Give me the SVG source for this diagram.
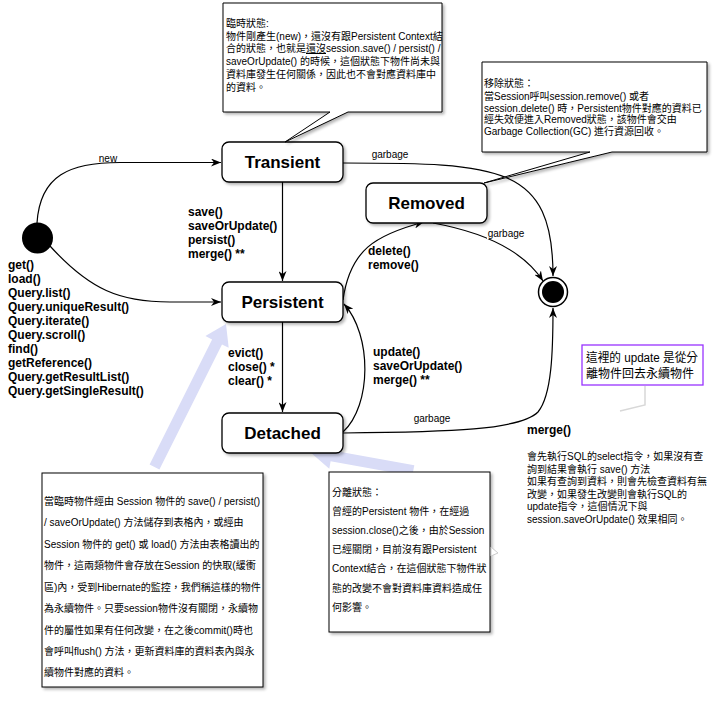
<svg xmlns="http://www.w3.org/2000/svg" width="721" height="701" viewBox="0 0 721 701">
<style>
.t{font-family:'Liberation Sans','Noto Sans CJK TC',sans-serif;fill:#000}
.node{fill:#fff;stroke:#000;stroke-width:1.3}
.ttl{font-size:17px;font-weight:bold;text-anchor:middle}
.lbl{font-size:12px;font-weight:bold}
.sm{font-size:10px}
.note{font-size:10px}
.edge{fill:none;stroke:#000;stroke-width:1.2}
.box{fill:#fff;stroke:#000;stroke-width:1}
.big{fill:#d9dcf7;stroke:none}
</style>
<defs>
<marker id="arr" viewBox="0 0 10 8" refX="10" refY="4" markerWidth="10" markerHeight="8" orient="auto" markerUnits="userSpaceOnUse">
<path d="M0,0 L10,4 L0,8 L3,4 Z" fill="#000"/>
</marker>
<filter id="sh" x="-10%" y="-10%" width="130%" height="130%">
<feGaussianBlur in="SourceAlpha" stdDeviation="1.5"/>
<feOffset dx="2" dy="2" result="o"/>
<feComponentTransfer><feFuncA type="linear" slope="0.3"/></feComponentTransfer>
<feMerge><feMergeNode/><feMergeNode in="SourceGraphic"/></feMerge>
</filter>
</defs>
<rect width="721" height="701" fill="#fff"/>

<g id="highlight-arrows">
<polygon class="big" points="159.4,469.5 222.0,344.4 228.7,347.7 226,324 205.4,336.1 212.1,339.4 149.6,464.5"/>
<polygon class="big" points="414.3,465.2 332.6,450.5 333.9,443.1 310,452 329.3,468.7 330.6,461.3 412.3,476.0"/>
</g>

<g id="connectors">
<path class="edge" d="M37,223 C40,175 70,162.5 120,162.5 L221,162.5" marker-end="url(#arr)"/>
<text class="t sm" x="108" y="161.5" text-anchor="middle">new</text>
<path class="edge" d="M50,246 C90,290 120,302 170,302 L221,302" marker-end="url(#arr)"/>
<path class="edge" d="M282.5,182 L282.5,281" marker-end="url(#arr)"/>
<path class="edge" d="M282.5,322 L282.5,412" marker-end="url(#arr)"/>
<path class="edge" d="M343,163 C500,163 553,165 553,276" marker-end="url(#arr)"/>
<text class="t sm" x="390" y="157.5" text-anchor="middle">garbage</text>
<path class="edge" d="M343,300 C350,250 375,235 424,222" marker-end="url(#arr)"/>
<path class="edge" d="M343,432 C372,405 372,335 344,304" marker-end="url(#arr)"/>
<path class="edge" d="M433,223 Q515,238 543,281" marker-end="url(#arr)"/>
<rect x="487" y="227" width="39" height="12" fill="#fff"/>
<text class="t sm" x="506" y="236.5" text-anchor="middle">garbage</text>
<path class="edge" d="M343,433 C450,432 520,430 538,412 C552,395 553,350 553,308" marker-end="url(#arr)"/>
<text class="t sm" x="432" y="421.5" text-anchor="middle">garbage</text>
</g>

<g id="initial">
<circle cx="37.5" cy="238" r="15.5" fill="#000"/>
</g>
<g id="final">
<circle cx="553" cy="292" r="14.5" fill="#fff" stroke="#000" stroke-width="1.5"/>
<circle cx="553" cy="292" r="11" fill="#000"/>
</g>

<g id="transient">
<rect class="node" x="222" y="142" width="121" height="40" rx="7" filter="url(#sh)"/>
<text class="t ttl" x="282.5" y="168">Transient</text>
</g>
<g id="persistent">
<rect class="node" x="222" y="282" width="121" height="40" rx="7" filter="url(#sh)"/>
<text class="t ttl" x="282.5" y="308">Persistent</text>
</g>
<g id="detached">
<rect class="node" x="222" y="413" width="121" height="40" rx="7" filter="url(#sh)"/>
<text class="t ttl" x="282.5" y="439">Detached</text>
</g>
<g id="removed">
<rect class="node" x="366" y="183" width="121" height="40" rx="7" filter="url(#sh)"/>
<text class="t ttl" x="426.5" y="209">Removed</text>
</g>

<g id="labels">
<text class="t lbl" x="8"><tspan x="8" y="269">get()</tspan><tspan x="8" y="283">load()</tspan><tspan x="8" y="297">Query.list()</tspan><tspan x="8" y="311">Query.uniqueResult()</tspan><tspan x="8" y="325">Query.iterate()</tspan><tspan x="8" y="339">Query.scroll()</tspan><tspan x="8" y="353">find()</tspan><tspan x="8" y="367">getReference()</tspan><tspan x="8" y="381">Query.getResultList()</tspan><tspan x="8" y="395">Query.getSingleResult()</tspan></text>
<text class="t lbl"><tspan x="188" y="216">save()</tspan><tspan x="188" y="230">saveOrUpdate()</tspan><tspan x="188" y="244">persist()</tspan><tspan x="188" y="258">merge() **</tspan></text>
<text class="t lbl"><tspan x="228" y="357">evict()</tspan><tspan x="228" y="371">close() *</tspan><tspan x="228" y="385">clear() *</tspan></text>
<text class="t lbl"><tspan x="368" y="255">delete()</tspan><tspan x="368" y="269">remove()</tspan></text>
<text class="t lbl"><tspan x="373" y="356">update()</tspan><tspan x="373" y="370">saveOrUpdate()</tspan><tspan x="373" y="384">merge() **</tspan></text>
<text class="t lbl" x="527" y="434">merge()</text>
<text class="t note"><tspan x="527" y="460">會先執行SQL的select指令，如果沒有查</tspan><tspan x="527" y="472.5">詢到結果會執行 save() 方法</tspan><tspan x="527" y="485">如果有查詢到資料，則會先檢查資料有無</tspan><tspan x="527" y="497.5">改變，如果發生改變則會執行SQL的</tspan><tspan x="527" y="510">update指令，這個情況下與</tspan><tspan x="527" y="522.5">session.saveOrUpdate() 效果相同。</tspan></text>
</g>

<g id="note-transient">
<path class="box" d="M223,3 H442 V112 H348 L285,142 L330,112 H223 Z" filter="url(#sh)"/>
<text class="t note"><tspan x="226" y="26.5">臨時狀態:</tspan><tspan x="226" y="39.5">物件剛產生(new)，還沒有跟Persistent Context結</tspan><tspan x="226" y="52">合的狀態，也就是<tspan text-decoration="underline">還沒</tspan>session.save() / persist() /</tspan><tspan x="226" y="65">saveOrUpdate() 的時候，這個狀態下物件尚未與</tspan><tspan x="226" y="77.5">資料庫發生任何關係，因此也不會對應資料庫中</tspan><tspan x="226" y="90.5">的資料。</tspan></text>
</g>

<g id="note-removed">
<path class="box" d="M482,62 H707 V152 H612 L484,183 L590,152 H482 Z" filter="url(#sh)"/>
<text class="t note"><tspan x="484" y="86.5">移除狀態：</tspan><tspan x="484" y="99.5">當Session呼叫session.remove() 或者</tspan><tspan x="484" y="111.5">session.delete() 時，Persistent物件對應的資料已</tspan><tspan x="484" y="123">經失效便進入Removed狀態，該物件會交由</tspan><tspan x="484" y="135">Garbage Collection(GC) 進行資源回收。</tspan></text>
</g>

<g id="note-persistent">
<rect class="box" x="42" y="473" width="221" height="214" filter="url(#sh)"/>
<text class="t note"><tspan x="44" y="504.5">當臨時物件經由 Session 物件的 save() / persist()</tspan><tspan x="44" y="525.5">/ saveOrUpdate() 方法儲存到表格內，或經由</tspan><tspan x="44" y="547.5">Session 物件的 get() 或 load() 方法由表格讀出的</tspan><tspan x="44" y="569">物件，這兩類物件會存放在Session 的快取(緩衝</tspan><tspan x="44" y="590.5">區)內，受到Hibernate的監控，我們稱這樣的物件</tspan><tspan x="44" y="612">為永續物件。只要session物件沒有關閉，永續物</tspan><tspan x="44" y="633.5">件的屬性如果有任何改變，在之後commit()時也</tspan><tspan x="44" y="655">會呼叫flush() 方法，更新資料庫的資料表內與永</tspan><tspan x="44" y="676">續物件對應的資料。</tspan></text>
</g>

<g id="note-detached">
<rect class="box" x="329" y="472" width="161" height="160" filter="url(#sh)"/>
<polygon points="491,547 498,553 491,556" fill="#fff" stroke="#ccc" stroke-width="1"/>
<text class="t note"><tspan x="332" y="495.5">分離狀態：</tspan><tspan x="332" y="514.5">曾經的Persistent 物件，在經過</tspan><tspan x="332" y="534">session.close()之後，由於Session</tspan><tspan x="332" y="553">已經關閉，目前沒有跟Persistent</tspan><tspan x="332" y="572">Context結合，在這個狀態下物件狀</tspan><tspan x="332" y="591.5">態的改變不會對資料庫資料造成任</tspan><tspan x="332" y="610.5">何影響。</tspan></text>
</g>

<g id="note-update">
<path d="M645,386 L645,405 L620,411" fill="none" stroke="#d8d8d8" stroke-width="1.5"/>
<rect x="582" y="345" width="121" height="40" fill="#fff" stroke="#9933ff" stroke-width="1.3"/>
<text class="t" font-size="12"><tspan x="586" y="362" textLength="112" lengthAdjust="spacingAndGlyphs">這裡的 update 是從分</tspan><tspan x="586" y="378">離物件回去永續物件</tspan></text>
</g>
</svg>
